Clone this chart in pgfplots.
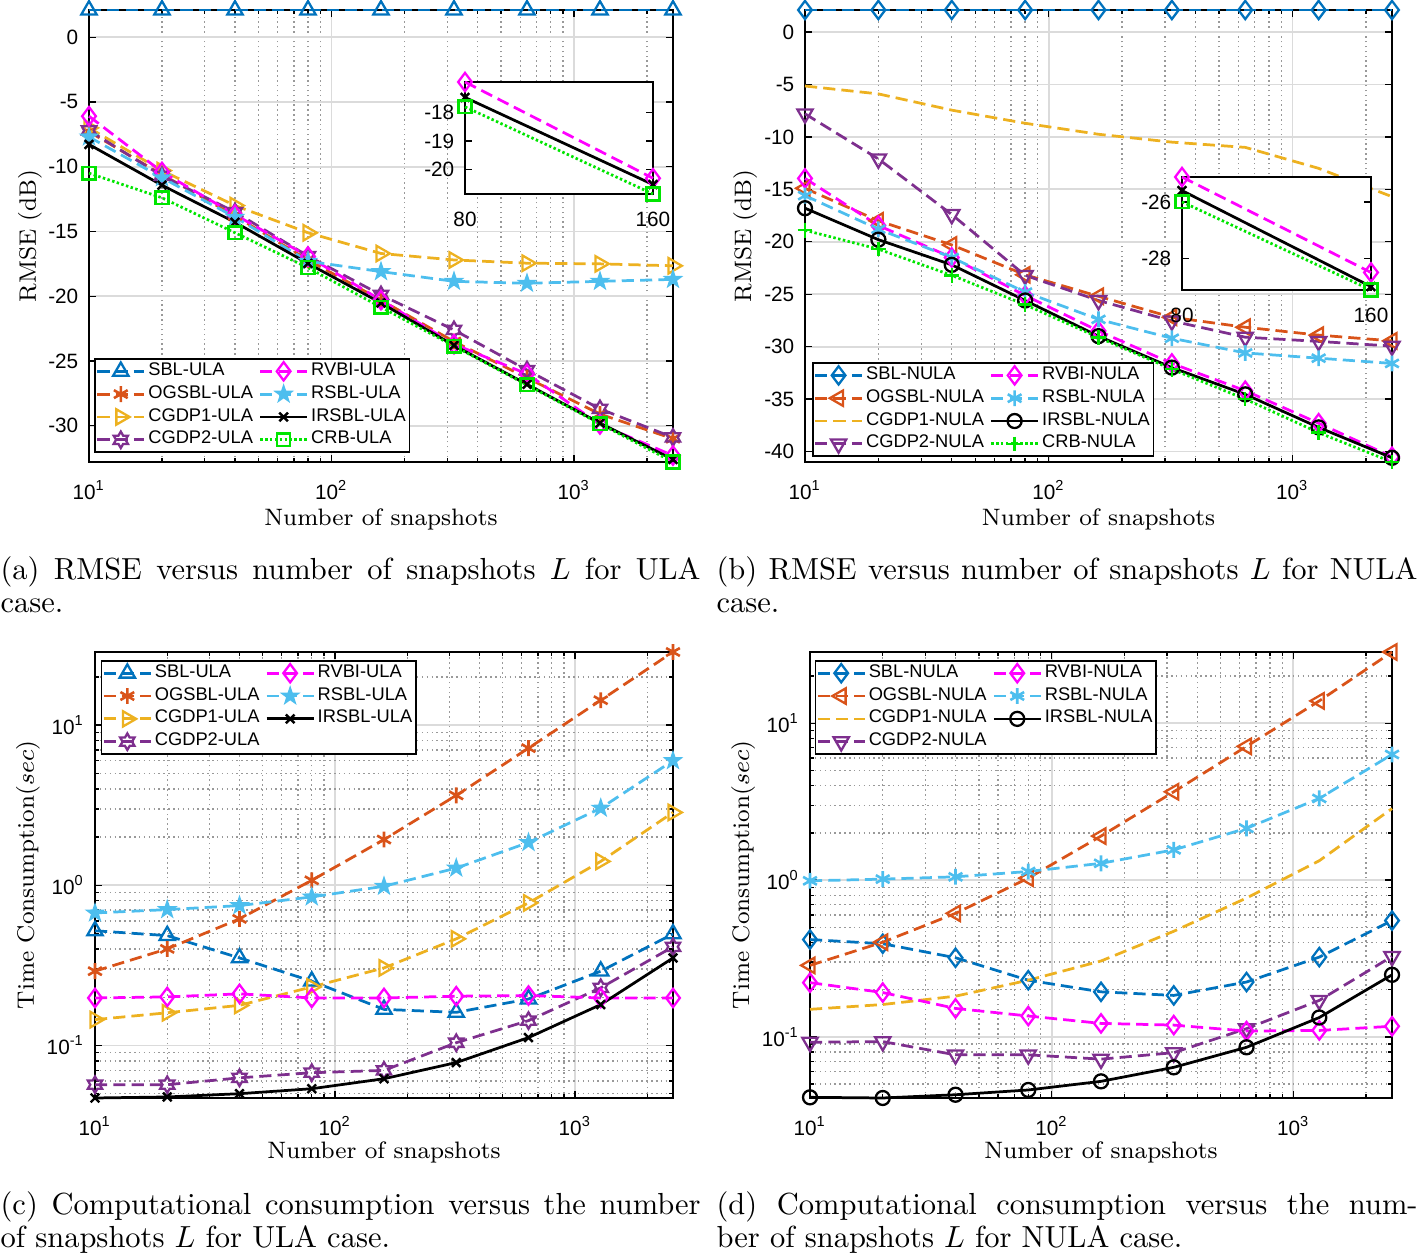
\documentclass[border=0pt]{standalone}
\usepackage{fontspec}
\usepackage{pgfplots}
\usepackage{pgfplotstable}
\pgfplotsset{compat=1.18}
\newfontfamily\arial{Liberation Sans}
\definecolor{mblue}{rgb}{0,0.447,0.741}
\definecolor{morange}{rgb}{0.85,0.325,0.098}
\definecolor{myellow}{rgb}{0.929,0.694,0.125}
\definecolor{mpurple}{rgb}{0.494,0.184,0.556}
\definecolor{mlblue}{rgb}{0.301,0.745,0.933}
\definecolor{mmag}{rgb}{1,0,1}
\definecolor{mgreen}{rgb}{0,0.9,0}

\pgfdeclareplotmark{pentagram}{%
  \pgfpathmoveto{\pgfpointpolar{90}{1.15*\pgfplotmarksize}}%
  \pgfpathlineto{\pgfpointpolar{126}{0.45*\pgfplotmarksize}}%
  \pgfpathlineto{\pgfpointpolar{162}{1.15*\pgfplotmarksize}}%
  \pgfpathlineto{\pgfpointpolar{198}{0.45*\pgfplotmarksize}}%
  \pgfpathlineto{\pgfpointpolar{234}{1.15*\pgfplotmarksize}}%
  \pgfpathlineto{\pgfpointpolar{270}{0.45*\pgfplotmarksize}}%
  \pgfpathlineto{\pgfpointpolar{306}{1.15*\pgfplotmarksize}}%
  \pgfpathlineto{\pgfpointpolar{342}{0.45*\pgfplotmarksize}}%
  \pgfpathlineto{\pgfpointpolar{18}{1.15*\pgfplotmarksize}}%
  \pgfpathlineto{\pgfpointpolar{54}{0.45*\pgfplotmarksize}}%
  \pgfpathclose
  \pgfusepathqfillstroke
}
\pgfdeclareplotmark{hexagram}{%
  \pgfpathmoveto{\pgfpointpolar{90}{\pgfplotmarksize}}%
  \pgfpathlineto{\pgfpointpolar{120}{0.577*\pgfplotmarksize}}%
  \pgfpathlineto{\pgfpointpolar{150}{\pgfplotmarksize}}%
  \pgfpathlineto{\pgfpointpolar{180}{0.577*\pgfplotmarksize}}%
  \pgfpathlineto{\pgfpointpolar{210}{\pgfplotmarksize}}%
  \pgfpathlineto{\pgfpointpolar{240}{0.577*\pgfplotmarksize}}%
  \pgfpathlineto{\pgfpointpolar{270}{\pgfplotmarksize}}%
  \pgfpathlineto{\pgfpointpolar{300}{0.577*\pgfplotmarksize}}%
  \pgfpathlineto{\pgfpointpolar{330}{\pgfplotmarksize}}%
  \pgfpathlineto{\pgfpointpolar{0}{0.577*\pgfplotmarksize}}%
  \pgfpathlineto{\pgfpointpolar{30}{\pgfplotmarksize}}%
  \pgfpathlineto{\pgfpointpolar{60}{0.577*\pgfplotmarksize}}%
  \pgfpathclose
  \pgfusepathqstroke
}

\pgfplotstableread{
L SBL OGSBL CGDP1 CGDP2 RVBI RSBL IRSBL CRB
10 2.1 -7.3 -7.0 -7.2 -6.1 -7.7 -8.28 -10.5
20 2.1 -10.6 -10.3 -10.7 -10.4 -10.85 -11.43 -12.4
40 2.1 -13.8 -13.0 -13.5 -13.7 -13.9 -14.29 -15.1
80 2.1 -17.2 -15.1 -16.9 -16.93 -17.3 -17.47 -17.8
160 2.1 -20.3 -16.7 -19.9 -20.3 -18.1 -20.52 -20.85
320 2.1 -23.5 -17.2 -22.6 -23.7 -18.85 -23.8 -23.85
640 2.1 -26.3 -17.45 -25.7 -26.0 -19.0 -26.8 -26.85
1280 2.1 -29.1 -17.5 -28.7 -29.9 -18.85 -29.8 -29.85
2560 2.1 -31.0 -17.65 -30.9 -32.3 -18.7 -32.6 -32.8
}\rmseULA

\pgfplotstableread{
L SBL OGSBL CGDP1 CGDP2 RVBI RSBL IRSBL CRB
10 2.1 -14.9 -5.15 -7.8 -13.96 -15.6 -16.8 -18.9
20 2.1 -18.0 -5.9 -12.1 -18.45 -18.8 -19.8 -20.7
40 2.1 -20.3 -7.45 -17.4 -21.5 -21.5 -22.2 -23.2
80 2.1 -23.15 -8.7 -23.2 -25.12 -24.8 -25.6 -26.0
160 2.1 -25.2 -9.75 -25.6 -28.5 -27.4 -29.0 -29.12
320 2.1 -27.2 -10.5 -27.55 -31.6 -29.2 -32.0 -32.15
640 2.1 -28.15 -11.0 -29.1 -34.2 -30.6 -34.55 -35.0
1280 2.1 -28.9 -13.0 -29.5 -37.3 -31.1 -37.7 -38.2
2560 2.1 -29.45 -15.7 -29.95 -40.5 -31.6 -40.6 -41.0
}\rmseNULA

\pgfplotstableread{
L SBL OGSBL CGDP1 CGDP2 RVBI RSBL IRSBL
10 0.52 0.291 0.145 0.0569 0.198 0.672 0.047
20 0.485 0.401 0.160 0.0569 0.201 0.705 0.0477
40 0.352 0.617 0.178 0.0628 0.210 0.747 0.050
80 0.252 1.074 0.232 0.0676 0.198 0.846 0.0537
160 0.168 1.93 0.305 0.0699 0.198 0.986 0.0620
320 0.161 3.64 0.463 0.104 0.203 1.28 0.0782
640 0.195 7.18 0.776 0.143 0.205 1.85 0.112
1280 0.291 14.3 1.41 0.229 0.198 3.03 0.180
2560 0.497 28.6 2.85 0.413 0.198 6.0 0.352
}\timeULA

\pgfplotstableread{
L SBL OGSBL CGDP1 CGDP2 RVBI RSBL IRSBL
10 0.418 0.286 0.150 0.0925 0.222 0.99 0.0412
20 0.393 0.402 0.161 0.0934 0.192 1.015 0.0408
40 0.320 0.614 0.182 0.0769 0.152 1.05 0.0428
80 0.230 1.03 0.230 0.0769 0.136 1.135 0.0459
160 0.194 1.91 0.305 0.0722 0.122 1.28 0.0521
320 0.184 3.66 0.472 0.0794 0.119 1.56 0.0640
640 0.224 7.13 0.769 0.113 0.109 2.14 0.0859
1280 0.323 13.9 1.33 0.171 0.110 3.32 0.133
2560 0.552 28.5 2.86 0.326 0.117 6.33 0.249
}\timeNULA

\pgfplotstableread{
L RVBI IRSBL CRB
80 -16.93 -17.47 -17.8
160 -20.3 -20.52 -20.85
}\insetULA

\pgfplotstableread{
L RVBI IRSBL CRB
80 -25.12 -25.6 -26.0
160 -28.5 -29.0 -29.12
}\insetNULA

\tikzset{
  mdash/.style={dash pattern=on 4pt off 2pt},
  mdot/.style={dash pattern=on 0.8pt off 0.8pt},
  stSBL/.style={color=mblue, mdash, mark=triangle, mark size=2.9pt, mark options={solid, line width=0.75pt}},
  stOGSBL/.style={color=morange, mdash, mark=asterisk, mark size=2.6pt, mark options={solid, line width=0.85pt}},
  stCGDPa/.style={color=myellow, mdash, mark=triangle, mark size=2.9pt, mark options={solid, rotate=-90, line width=0.75pt}},
  stCGDPb/.style={color=mpurple, mdash, mark=hexagram, mark size=2.7pt, mark options={solid, line width=0.75pt}},
  stRVBI/.style={color=mmag, mdash, mark=diamond, mark size=3pt, mark options={solid, line width=0.75pt}},
  stRSBL/.style={color=mlblue, mdash, mark=pentagram, mark size=2.3pt, mark options={solid, line width=0.6pt}},
  stIRSBL/.style={color=black, solid, mark=x, mark size=2pt, mark options={solid, line width=0.8pt}},
  stCRB/.style={color=mgreen, mdot, mark=square, mark size=2.1pt, mark options={solid, line width=0.75pt}},
  stSBLn/.style={color=mblue, mdash, mark=diamond, mark size=3pt, mark options={solid, line width=0.75pt}},
  stOGSBLn/.style={color=morange, mdash, mark=triangle, mark size=2.9pt, mark options={solid, rotate=90, line width=0.75pt}},
  stCGDPan/.style={color=myellow, mdash},
  stCGDPbn/.style={color=mpurple, mdash, mark=triangle, mark size=2.9pt, mark options={solid, rotate=180, line width=0.75pt}},
  stRVBIn/.style={color=mmag, mdash, mark=diamond, mark size=3pt, mark options={solid, line width=0.75pt}},
  stRSBLn/.style={color=mlblue, mdash, mark=asterisk, mark size=2.6pt, mark options={solid, line width=0.85pt}},
  stIRSBLn/.style={color=black, solid, mark=o, mark size=2.3pt, mark options={solid, line width=0.75pt}},
  stCRBn/.style={color=mgreen, mdot, mark=+, mark size=2.4pt, mark options={solid, line width=0.8pt}},
}
\pgfplotsset{every axis/.append style={
    scale only axis, clip=false, anchor=south west,
    tick align=inside,
    major tick length=2.3pt, minor tick length=1.3pt,
    axis line style={line width=0.55pt},
    ticklabel style={font=\arial\fontsize{6.8}{8}\selectfont},
    xticklabel style={yshift=-2.5pt},
    label style={font=\fontsize{7.8}{9}\selectfont},
    major grid style={line width=0.6pt, black!14},
    minor grid style={line width=0.45pt, black!40, dash pattern=on 0.5pt off 1.1pt},
    legend cell align=left,
    legend columns=2,
    legend style={draw=black, line width=0.55pt, fill=white,
      font=\arial\fontsize{6}{7}\selectfont, inner sep=0.3pt,
      nodes={inner sep=0.9pt},
      /tikz/every even column/.append style={column sep=1pt}},
  },
  every axis plot/.append style={line width=0.9pt},
  every tick/.append style={black, line width=0.45pt},
  legend image code/.code={\draw[mark repeat=2,mark phase=2,#1] plot coordinates {(0cm,0cm)(0.27cm,0cm)(0.54cm,0cm)};},
}

\begin{document}
\begin{tikzpicture}
\path[use as bounding box] (0,0) rectangle (464.78pt,-411.64pt);

% (a)
\begin{axis}[at={(29.19pt,-151.54pt)}, width=191.55pt, height=148.26pt,
  xmode=log, xmin=10, xmax=2560, xtick={10,100,1000},
  xticklabels={10\textsuperscript{1},10\textsuperscript{2},10\textsuperscript{3}},
  minor xtick={20,30,40,50,60,70,80,90,200,300,400,500,600,700,800,900,2000},
  xmajorgrids, ymajorgrids, xminorgrids,
  xlabel={Number of snapshots},
  ymin=-32.8, ymax=2.1, ytick={-30,-25,-20,-15,-10,-5,0},
  yticklabels={-30,-25,-20,-15,-10,-5,0},
  ylabel={RMSE (dB)},
  ylabel style={at={(axis description cs:-0.101,0.5)}, anchor=center},
  xlabel style={at={(axis description cs:0.5,-0.126)}, anchor=center},
  legend style={at={(0.009,0.02)}, anchor=south west}]
\addplot[stSBL, forget plot] table[x=L,y=SBL]{\rmseULA};
\addplot[stOGSBL, forget plot] table[x=L,y=OGSBL]{\rmseULA};
\addplot[stCGDPa, forget plot] table[x=L,y=CGDP1]{\rmseULA};
\addplot[stCGDPb, forget plot] table[x=L,y=CGDP2]{\rmseULA};
\addplot[stRVBI, forget plot] table[x=L,y=RVBI]{\rmseULA};
\addplot[stRSBL, forget plot] table[x=L,y=RSBL]{\rmseULA};
\addplot[stIRSBL, forget plot] table[x=L,y=IRSBL]{\rmseULA};
\addplot[stCRB, forget plot] table[x=L,y=CRB]{\rmseULA};
\addlegendimage{stSBL}\addlegendentry{SBL-ULA}
\addlegendimage{stRVBI}\addlegendentry{RVBI-ULA}
\addlegendimage{stOGSBL}\addlegendentry{OGSBL-ULA}
\addlegendimage{stRSBL}\addlegendentry{RSBL-ULA}
\addlegendimage{stCGDPa}\addlegendentry{CGDP1-ULA}
\addlegendimage{stIRSBL}\addlegendentry{IRSBL-ULA}
\addlegendimage{stCGDPb}\addlegendentry{CGDP2-ULA}
\addlegendimage{stCRB}\addlegendentry{CRB-ULA}
\end{axis}

\begin{axis}[at={(152.52pt,-63.63pt)}, width=61.66pt, height=36.74pt,
  axis background/.style={fill=white},
  xmin=80, xmax=160, xtick={80,160}, xticklabels={80,160},
  ymin=-20.85, ymax=-16.93, ytick={-20,-19,-18}, yticklabels={-20,-19,-18}]
\addplot[stRVBI] table[x=L,y=RVBI]{\insetULA};
\addplot[stIRSBL] table[x=L,y=IRSBL]{\insetULA};
\addplot[stCRB] table[x=L,y=CRB]{\insetULA};
\end{axis}

% (b)
\begin{axis}[at={(264.04pt,-151.54pt)}, width=192.54pt, height=148.26pt,
  xmode=log, xmin=10, xmax=2560, xtick={10,100,1000},
  xticklabels={10\textsuperscript{1},10\textsuperscript{2},10\textsuperscript{3}},
  minor xtick={20,30,40,50,60,70,80,90,200,300,400,500,600,700,800,900,2000},
  xmajorgrids, ymajorgrids, xminorgrids,
  xlabel={Number of snapshots},
  ymin=-41, ymax=2.1, ytick={-40,-35,-30,-25,-20,-15,-10,-5,0},
  yticklabels={-40,-35,-30,-25,-20,-15,-10,-5,0},
  ylabel={RMSE (dB)},
  ylabel style={at={(axis description cs:-0.102,0.5)}, anchor=center},
  xlabel style={at={(axis description cs:0.5,-0.126)}, anchor=center},
  legend style={at={(0.012,0.011)}, anchor=south west}]
\addplot[stSBLn, forget plot] table[x=L,y=SBL]{\rmseNULA};
\addplot[stOGSBLn, forget plot] table[x=L,y=OGSBL]{\rmseNULA};
\addplot[stCGDPan, forget plot] table[x=L,y=CGDP1]{\rmseNULA};
\addplot[stCGDPbn, forget plot] table[x=L,y=CGDP2]{\rmseNULA};
\addplot[stRVBIn, forget plot] table[x=L,y=RVBI]{\rmseNULA};
\addplot[stRSBLn, forget plot] table[x=L,y=RSBL]{\rmseNULA};
\addplot[stIRSBLn, forget plot] table[x=L,y=IRSBL]{\rmseNULA};
\addplot[stCRBn, forget plot] table[x=L,y=CRB]{\rmseNULA};
\addlegendimage{stSBLn}\addlegendentry{SBL-NULA}
\addlegendimage{stRVBIn}\addlegendentry{RVBI-NULA}
\addlegendimage{stOGSBLn}\addlegendentry{OGSBL-NULA}
\addlegendimage{stRSBLn}\addlegendentry{RSBL-NULA}
\addlegendimage{stCGDPan}\addlegendentry{CGDP1-NULA}
\addlegendimage{stIRSBLn}\addlegendentry{IRSBL-NULA}
\addlegendimage{stCGDPbn}\addlegendentry{CGDP2-NULA}
\addlegendimage{stCRBn}\addlegendentry{CRB-NULA}
\end{axis}

\begin{axis}[at={(387.70pt,-95.12pt)}, width=61.99pt, height=37.06pt,
  axis background/.style={fill=white},
  xmin=80, xmax=160, xtick={80,160}, xticklabels={80,160},
  ymin=-29.12, ymax=-25.12, ytick={-28,-26}, yticklabels={-28,-26}]
\addplot[stRVBI] table[x=L,y=RVBI]{\insetNULA};
\addplot[stIRSBL] table[x=L,y=IRSBL]{\insetNULA};
\addplot[stCRB] table[x=L,y=CRB]{\insetNULA};
\end{axis}

% (c)
\begin{axis}[at={(31.16pt,-360.14pt)}, width=189.58pt, height=146.29pt,
  xmode=log, xmin=10, xmax=2560, xtick={10,100,1000},
  xticklabels={10\textsuperscript{1},10\textsuperscript{2},10\textsuperscript{3}},
  minor xtick={20,30,40,50,60,70,80,90,200,300,400,500,600,700,800,900,2000},
  xmajorgrids, ymajorgrids, xminorgrids, yminorgrids,
  xlabel={Number of snapshots},
  ymode=log, ymin=0.047, ymax=28.6, ytick={0.1,1,10},
  yticklabels={10\textsuperscript{-1},10\textsuperscript{0},10\textsuperscript{1}},
  minor ytick={0.05,0.06,0.07,0.08,0.09,0.2,0.3,0.4,0.5,0.6,0.7,0.8,0.9,2,3,4,5,6,7,8,9,20},
  ylabel={Time Consumption($sec$)},
  ylabel style={at={(axis description cs:-0.116,0.5)}, anchor=center},
  xlabel style={at={(axis description cs:0.5,-0.123)}, anchor=center},
  legend style={at={(0.010,0.982)}, anchor=north west}]
\addplot[stSBL, forget plot] table[x=L,y=SBL]{\timeULA};
\addplot[stOGSBL, forget plot] table[x=L,y=OGSBL]{\timeULA};
\addplot[stCGDPa, forget plot] table[x=L,y=CGDP1]{\timeULA};
\addplot[stCGDPb, forget plot] table[x=L,y=CGDP2]{\timeULA};
\addplot[stRVBI, forget plot] table[x=L,y=RVBI]{\timeULA};
\addplot[stRSBL, forget plot] table[x=L,y=RSBL]{\timeULA};
\addplot[stIRSBL, forget plot] table[x=L,y=IRSBL]{\timeULA};
\addlegendimage{stSBL}\addlegendentry{SBL-ULA}
\addlegendimage{stRVBI}\addlegendentry{RVBI-ULA}
\addlegendimage{stOGSBL}\addlegendentry{OGSBL-ULA}
\addlegendimage{stRSBL}\addlegendentry{RSBL-ULA}
\addlegendimage{stCGDPa}\addlegendentry{CGDP1-ULA}
\addlegendimage{stIRSBL}\addlegendentry{IRSBL-ULA}
\addlegendimage{stCGDPb}\addlegendentry{CGDP2-ULA}
\end{axis}

% (d)
\begin{axis}[at={(265.68pt,-360.14pt)}, width=190.90pt, height=146.29pt,
  xmode=log, xmin=10, xmax=2560, xtick={10,100,1000},
  xticklabels={10\textsuperscript{1},10\textsuperscript{2},10\textsuperscript{3}},
  minor xtick={20,30,40,50,60,70,80,90,200,300,400,500,600,700,800,900,2000},
  xmajorgrids, ymajorgrids, xminorgrids, yminorgrids,
  xlabel={Number of snapshots},
  ymode=log, ymin=0.0408, ymax=28.5, ytick={0.1,1,10},
  yticklabels={10\textsuperscript{-1},10\textsuperscript{0},10\textsuperscript{1}},
  minor ytick={0.05,0.06,0.07,0.08,0.09,0.2,0.3,0.4,0.5,0.6,0.7,0.8,0.9,2,3,4,5,6,7,8,9,20},
  ylabel={Time Consumption($sec$)},
  ylabel style={at={(axis description cs:-0.115,0.5)}, anchor=center},
  xlabel style={at={(axis description cs:0.5,-0.123)}, anchor=center},
  legend style={at={(0.008,0.982)}, anchor=north west}]
\addplot[stSBLn, forget plot] table[x=L,y=SBL]{\timeNULA};
\addplot[stOGSBLn, forget plot] table[x=L,y=OGSBL]{\timeNULA};
\addplot[stCGDPan, forget plot] table[x=L,y=CGDP1]{\timeNULA};
\addplot[stCGDPbn, forget plot] table[x=L,y=CGDP2]{\timeNULA};
\addplot[stRVBIn, forget plot] table[x=L,y=RVBI]{\timeNULA};
\addplot[stRSBLn, forget plot] table[x=L,y=RSBL]{\timeNULA};
\addplot[stIRSBLn, forget plot] table[x=L,y=IRSBL]{\timeNULA};
\addlegendimage{stSBLn}\addlegendentry{SBL-NULA}
\addlegendimage{stRVBIn}\addlegendentry{RVBI-NULA}
\addlegendimage{stOGSBLn}\addlegendentry{OGSBL-NULA}
\addlegendimage{stRSBLn}\addlegendentry{RSBL-NULA}
\addlegendimage{stCGDPan}\addlegendentry{CGDP1-NULA}
\addlegendimage{stIRSBLn}\addlegendentry{IRSBL-NULA}
\addlegendimage{stCGDPbn}\addlegendentry{CGDP2-NULA}
\end{axis}

% captions
\node[anchor=north west, inner sep=0, text width=229.6pt, align=justify,
  font=\fontsize{10}{10.8}\selectfont] at (0pt,-182.4pt)
  {(a) RMSE versus number of snapshots $L$ for ULA\linebreak case.};
\node[anchor=north west, inner sep=0, text width=229.9pt, align=justify,
  font=\fontsize{10}{10.8}\selectfont] at (234.85pt,-182.4pt)
  {(b) RMSE versus number of snapshots $L$ for NULA\linebreak case.};
\node[anchor=north west, inner sep=0, text width=229.6pt, align=justify,
  font=\fontsize{10}{10.8}\selectfont] at (0pt,-390.6pt)
  {(c) Computational consumption versus the number\linebreak of snapshots $L$ for ULA case.};
\node[anchor=north west, inner sep=0, text width=229.9pt, align=justify,
  font=\fontsize{10}{10.8}\selectfont] at (234.85pt,-390.6pt)
  {(d) Computational consumption versus the num-\linebreak ber of snapshots $L$ for NULA case.};
\end{tikzpicture}
\end{document}
